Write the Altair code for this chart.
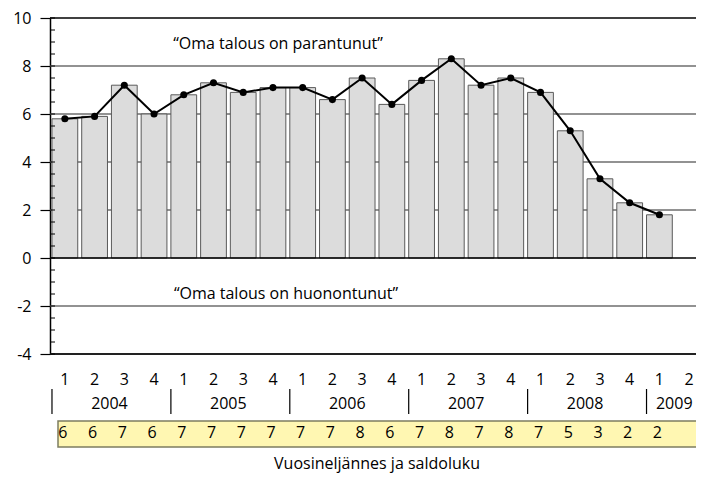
import altair as alt
import pandas as pd

# ---- data ----
years = ["2004", "2005", "2006", "2007", "2008", "2009"]
quarters_per_year = [4, 4, 4, 4, 4, 2]
bar_values = [5.8, 5.9, 7.2, 6.0, 6.8, 7.3, 6.9, 7.1, 7.1, 6.6, 7.5,
              6.4, 7.4, 8.3, 7.2, 7.5, 6.9, 5.3, 3.3, 2.3, 1.8]
line_values = [5.8, 5.9, 7.2, 6.0, 6.8, 7.3, 6.9, 7.1, 7.1, 6.6, 7.5,
               6.4, 7.4, 8.3, 7.2, 7.5, 6.9, 5.3, 3.3, 2.3, 1.8]
saldo_labels = ["6", "6", "7", "6", "7", "7", "7", "7", "7", "7", "8",
                "6", "7", "8", "7", "8", "7", "5", "3", "2", "2"]
y_ticks = [-4, -2, 0, 2, 4, 6, 8, 10]
minor_ticks = [v / 2 for v in range(-8, 21)]
grey_grid = [-2, 2, 4, 6, 8]
black_lines = [0, 10]
bottom_line = [-4]
text_up = "\u201cOma talous on parantunut\u201d"
text_down = "\u201cOma talous on huonontunut\u201d"
x_title = "Vuosineljännes ja saldoluku"

FONT = "Open Sans"
W = 654

cats, qlabels = [], []
for y, n in zip(years, quarters_per_year):
    for q in range(1, n + 1):
        cats.append(f"{y}-{q}")
        qlabels.append(str(q))

STEP = W / len(cats)

df_q = pd.DataFrame({"cat": cats, "q": qlabels})
df_vals = pd.DataFrame({"cat": cats[:len(bar_values)], "bar": bar_values,
                        "line": line_values, "saldo": saldo_labels})
year_anchor = [f"{y}-2" if n == 4 else f"{y}-1" for y, n in zip(years, quarters_per_year)]
df_years = pd.DataFrame({"year": years, "anchor": year_anchor,
                         "first": [f"{y}-1" for y in years]})

xscale = alt.Scale(domain=cats, paddingInner=4 / 30, paddingOuter=2 / 30)
yscale = alt.Scale(domain=[-4, 10], nice=False, zero=False)
yaxis = alt.Axis(
    values=y_ticks, tickSize=10, tickColor="black", tickWidth=1.2,
    domainColor="black", domainWidth=1.5, labelFont=FONT, labelFontSize=16,
    labelColor="black", labelPadding=9, grid=False, title=None,
    labelExpr="replace(datum.label, '\u2212', '-')")
X = alt.X("cat:N", scale=xscale, axis=None, sort=cats)


def Y(field):
    return alt.Y(field, scale=yscale, axis=yaxis)


grid = alt.Chart(pd.DataFrame({"v": grey_grid})).mark_rule(
    color="#6e6e6e", strokeWidth=1.3
).encode(y=Y("v:Q"))

bars = alt.Chart(df_vals).mark_bar(
    fill="#dcdcdc", stroke="#5a5a5a", strokeWidth=1
).encode(x=X, y=Y("bar:Q"))

blk = alt.Chart(pd.DataFrame({"v": black_lines})).mark_rule(
    color="black", strokeWidth=1.5
).encode(y=Y("v:Q"))

bottom = alt.Chart(pd.DataFrame({"v": bottom_line})).mark_rule(
    color="#222222", strokeWidth=2.2
).encode(y=Y("v:Q"))

minor = alt.Chart(pd.DataFrame({"v": minor_ticks})).mark_rule(
    color="black", strokeWidth=1
).encode(y=Y("v:Q"), x=alt.value(0), x2=alt.value(5))

line = alt.Chart(df_vals).mark_line(color="black", strokeWidth=2).encode(
    x=X, y=Y("line:Q"))
pts = alt.Chart(df_vals).mark_point(filled=True, size=50, color="black", opacity=1).encode(
    x=X, y=Y("line:Q"))

ann_up = alt.Chart(pd.DataFrame({"t": [text_up]})).mark_text(
    font=FONT, fontSize=16, color="black", baseline="alphabetic", align="center"
).encode(text="t:N", x=alt.value(228), y=alt.value(31))

ann_down = alt.Chart(pd.DataFrame({"t": [text_down]})).mark_text(
    font=FONT, fontSize=16, color="black", baseline="alphabetic", align="center"
).encode(text="t:N", x=alt.value(236), y=alt.value(281))

qrow = alt.Chart(df_q).mark_text(font=FONT, fontSize=16, color="black",
                                 baseline="alphabetic").encode(
    x=X, y=alt.value(367), text="q:N")

yrow = alt.Chart(df_years).mark_text(font=FONT, fontSize=16, color="black",
                                     baseline="alphabetic", dx=STEP / 2).encode(
    x=alt.X("anchor:N", scale=xscale, axis=None, sort=cats),
    y=alt.value(391), text="year:N")

seps = alt.Chart(df_years).mark_rule(color="black", strokeWidth=1.2).encode(
    x=alt.X("first:N", scale=xscale, axis=None, sort=cats, bandPosition=0),
    y=alt.value(371), y2=alt.value(396))

box = alt.Chart(pd.DataFrame({"k": [0]})).mark_rect(
    fill="#fff7b2", stroke="#7d7d60", strokeWidth=1.5
).encode(x=alt.value(8), x2=alt.value(720), y=alt.value(403), y2=alt.value(429))

srow = alt.Chart(df_vals).mark_text(font=FONT, fontSize=16, color="black",
                                    baseline="alphabetic", dx=-2).encode(
    x=X, y=alt.value(420), text="saldo:N")

title = alt.Chart(pd.DataFrame({"t": [x_title]})).mark_text(
    font=FONT, fontSize=16, color="black", baseline="alphabetic"
).encode(text="t:N", x=alt.value(W / 2), y=alt.value(451))

chart = alt.layer(
    grid, bars, blk, bottom, minor, line, pts, ann_up, ann_down,
    qrow, yrow, seps, box, srow, title
).properties(
    width=W, height=336,
    autosize=alt.AutoSizeParams(type="none"),
    padding={"left": 42, "top": 10, "right": 688 - 42 - W, "bottom": 124},
).configure_view(strokeWidth=0)

chart.save("out.html", embed_options={"renderer": "svg", "actions": False})
